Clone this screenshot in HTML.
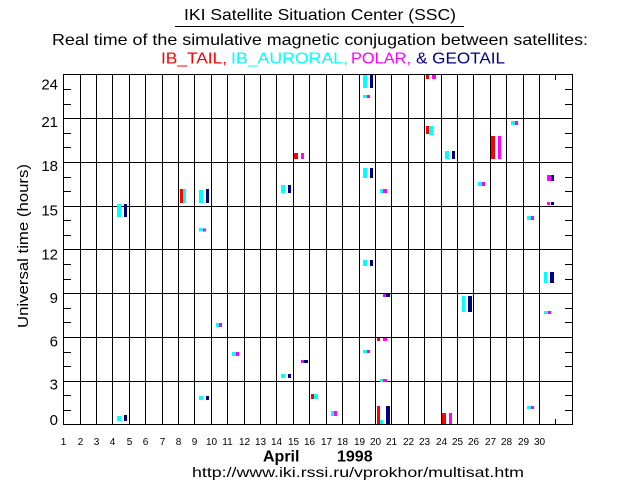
<!DOCTYPE html>
<html>
<head>
<meta charset="utf-8">
<style>
html,body{margin:0;padding:0;background:#fff;}
svg{display:block;}
text{font-family:"Liberation Sans",Arial,sans-serif;}
</style>
</head>
<body>
<svg width="636" height="500" viewBox="0 0 636 500" xmlns="http://www.w3.org/2000/svg">
<rect x="0" y="0" width="636" height="500" fill="#fff"/>

<!-- Titles -->
<text x="184" y="20" font-size="16" textLength="272" lengthAdjust="spacingAndGlyphs" fill="#000">IKI Satellite Situation Center (SSC)</text>
<rect x="175" y="26" width="289" height="1" fill="#000"/>
<text x="52" y="45" font-size="16" textLength="536" lengthAdjust="spacingAndGlyphs" fill="#000">Real time of the simulative magnetic conjugation between satellites:</text>
<text x="161" y="63.5" font-size="16" textLength="66" lengthAdjust="spacingAndGlyphs" fill="#ff0000">IB_TAIL,</text>
<text x="231" y="63.5" font-size="16" textLength="117" lengthAdjust="spacingAndGlyphs" fill="#00ffff">IB_AURORAL,</text>
<text x="351" y="63.5" font-size="16" textLength="60" lengthAdjust="spacingAndGlyphs" fill="#ff00ff">POLAR,</text>
<text x="416" y="63.5" font-size="16" textLength="89" lengthAdjust="spacingAndGlyphs" fill="#000080">&amp; GEOTAIL</text>

<!-- Grid -->
<g stroke="#000" stroke-width="1" shape-rendering="crispEdges" fill="none">
<rect x="63.5" y="74.5" width="509" height="350"/>
<path d="M80.5 74V425 M96.5 74V425 M112.5 74V425 M129.5 74V425 M145.5 74V425 M162.5 74V425 M178.5 74V425 M194.5 74V425 M211.5 74V425 M227.5 74V425 M244.5 74V425 M260.5 74V425 M276.5 74V425 M293.5 74V425 M309.5 74V425 M326.5 74V425 M342.5 74V425 M359.5 74V425 M375.5 74V425 M391.5 74V425 M408.5 74V425 M424.5 74V425 M441.5 74V425 M457.5 74V425 M473.5 74V425 M490.5 74V425 M506.5 74V425 M523.5 74V425 M539.5 74V425"/>
<path d="M555.5 74V80 M555.5 419V425"/>
<path d="M63 118.5H573 M63 162.5H573 M63 206.5H573 M63 249.5H573 M63 293.5H573 M63 337.5H573 M63 381.5H573"/>
<path d="M63 89.5H71 M63 104.5H71 M63 133.5H71 M63 147.5H71 M63 177.5H71 M63 191.5H71 M63 220.5H71 M63 235.5H71 M63 264.5H71 M63 279.5H71 M63 308.5H71 M63 322.5H71 M63 352.5H71 M63 366.5H71 M63 395.5H71 M63 410.5H71"/>
<path d="M565 89.5H573 M565 104.5H573 M565 133.5H573 M565 147.5H573 M565 177.5H573 M565 191.5H573 M565 220.5H573 M565 235.5H573 M565 264.5H573 M565 279.5H573 M565 308.5H573 M565 322.5H573 M565 352.5H573 M565 366.5H573 M565 395.5H573 M565 410.5H573"/>
</g>

<!-- Data markers -->
<g shape-rendering="crispEdges">
<!-- cyan -->
<g fill="#00ffff">
<rect x="117" y="204" width="4" height="13"/>
<rect x="183" y="189" width="3" height="14"/>
<rect x="199" y="190" width="4" height="13"/>
<rect x="199" y="228" width="4" height="3.5"/>
<rect x="281" y="185" width="4" height="8"/>
<rect x="363" y="75" width="4" height="13"/>
<rect x="363" y="95" width="4" height="3"/>
<rect x="429" y="126" width="4" height="9"/>
<rect x="445" y="151" width="4" height="8"/>
<rect x="511" y="121" width="4" height="4"/>
<rect x="363" y="168" width="4" height="10"/>
<rect x="380" y="189" width="3" height="4"/>
<rect x="478" y="182" width="4" height="4"/>
<rect x="527" y="216" width="4" height="4"/>
<rect x="117" y="416" width="4" height="5"/>
<rect x="199" y="396" width="4" height="4"/>
<rect x="216" y="323" width="3" height="4"/>
<rect x="232" y="352" width="4" height="4"/>
<rect x="281" y="374" width="4" height="4"/>
<rect x="314" y="394" width="4" height="5"/>
<rect x="331" y="411" width="3" height="5"/>
<rect x="363" y="260" width="4" height="6"/>
<rect x="363" y="350" width="4" height="3"/>
<rect x="380" y="379" width="3" height="3"/>
<rect x="380" y="420" width="3" height="4"/>
<rect x="462" y="296" width="3" height="16"/>
<rect x="544" y="272" width="3" height="11"/>
<rect x="544" y="311" width="4" height="3"/>
<rect x="527" y="406" width="4" height="3"/>
</g>
<!-- navy -->
<g fill="#000080">
<rect x="124" y="204" width="3" height="13"/>
<rect x="206" y="189" width="3" height="14"/>
<rect x="288" y="185" width="3" height="8"/>
<rect x="370" y="75" width="3" height="13"/>
<rect x="452" y="151" width="3" height="8"/>
<rect x="370" y="168" width="3" height="10"/>
<rect x="551" y="175" width="3" height="6"/>
<rect x="551" y="202" width="3" height="3"/>
<rect x="124" y="415" width="3" height="6"/>
<rect x="206" y="396" width="3" height="4"/>
<rect x="288" y="374" width="3" height="4"/>
<rect x="304" y="360" width="4" height="3"/>
<rect x="370" y="260" width="3" height="6"/>
<rect x="386" y="294" width="4" height="3"/>
<rect x="386" y="406" width="4" height="18"/>
<rect x="468" y="296" width="4" height="16"/>
<rect x="550" y="272" width="4" height="11"/>
</g>
<!-- magenta -->
<g fill="#ff00ff">
<rect x="203" y="228.5" width="3" height="3"/>
<rect x="301" y="153" width="3" height="6"/>
<rect x="367" y="95" width="3" height="3"/>
<rect x="432" y="75" width="4" height="4"/>
<rect x="498" y="136" width="3" height="23"/>
<rect x="515" y="121" width="3" height="4"/>
<rect x="383" y="189" width="4" height="4"/>
<rect x="482" y="182" width="3" height="4"/>
<rect x="547" y="175" width="4" height="6"/>
<rect x="547" y="202" width="3" height="3"/>
<rect x="531" y="216" width="3" height="4"/>
<rect x="219" y="323" width="3" height="4"/>
<rect x="236" y="352" width="3" height="4"/>
<rect x="301" y="360" width="3" height="3"/>
<rect x="334" y="411" width="3" height="5"/>
<rect x="383" y="294" width="3" height="3"/>
<rect x="383" y="338" width="4" height="3"/>
<rect x="367" y="350" width="3" height="3"/>
<rect x="383" y="379" width="4" height="3"/>
<rect x="449" y="413" width="3" height="11"/>
<rect x="548" y="311" width="3" height="3"/>
<rect x="531" y="406" width="3" height="3"/>
</g>
<!-- red -->
<g fill="#ff0000">
<rect x="180" y="189" width="3" height="14"/>
<rect x="294" y="153" width="4" height="6"/>
<rect x="426" y="75" width="3" height="4"/>
<rect x="426" y="126" width="3" height="8"/>
<rect x="491" y="136" width="4" height="23"/>
<rect x="311" y="394" width="3" height="5"/>
<rect x="377" y="338" width="3" height="3"/>
<rect x="377" y="406" width="3" height="18"/>
<rect x="442" y="413" width="4" height="11"/>
</g>
</g>

<!-- Y tick labels -->
<g font-size="15" fill="#000" text-anchor="end">
<text x="58" y="89.5">24</text>
<text x="58" y="127">21</text>
<text x="58" y="171">18</text>
<text x="58" y="215.5">15</text>
<text x="58" y="259.5">12</text>
<text x="58" y="303">9</text>
<text x="58" y="346.5">6</text>
<text x="58" y="389.5">3</text>
<text x="58" y="425">0</text>
</g>

<!-- Y axis title -->
<text transform="translate(28,246) rotate(-90)" text-anchor="middle" font-size="15" textLength="164" lengthAdjust="spacingAndGlyphs" fill="#000">Universal time (hours)</text>

<!-- X tick labels -->
<g font-size="10" fill="#000" text-anchor="middle">
<text x="63.5" y="445">1</text>
<text x="80.5" y="445">2</text>
<text x="96.5" y="445">3</text>
<text x="112.5" y="445">4</text>
<text x="129.5" y="445">5</text>
<text x="145.5" y="445">6</text>
<text x="162.5" y="445">7</text>
<text x="178.5" y="445">8</text>
<text x="194.5" y="445">9</text>
<text x="211.5" y="445">10</text>
<text x="227.5" y="445">11</text>
<text x="244.5" y="445">12</text>
<text x="260.5" y="445">13</text>
<text x="276.5" y="445">14</text>
<text x="293.5" y="445">15</text>
<text x="309.5" y="445">16</text>
<text x="326.5" y="445">17</text>
<text x="342.5" y="445">18</text>
<text x="359.5" y="445">19</text>
<text x="375.5" y="445">20</text>
<text x="391.5" y="445">21</text>
<text x="408.5" y="445">22</text>
<text x="424.5" y="445">23</text>
<text x="441.5" y="445">24</text>
<text x="457.5" y="445">25</text>
<text x="473.5" y="445">26</text>
<text x="490.5" y="445">27</text>
<text x="506.5" y="445">28</text>
<text x="523.5" y="445">29</text>
<text x="539.5" y="445">30</text>
</g>

<!-- X axis title -->
<text x="263" y="461.5" font-size="16" font-weight="bold" fill="#000">April</text>
<text x="337" y="461.5" font-size="16" font-weight="bold" fill="#000">1998</text>
<text x="192" y="477" font-size="14" textLength="332" lengthAdjust="spacingAndGlyphs" fill="#000">http://www.iki.rssi.ru/vprokhor/multisat.htm</text>
</svg>
</body>
</html>
